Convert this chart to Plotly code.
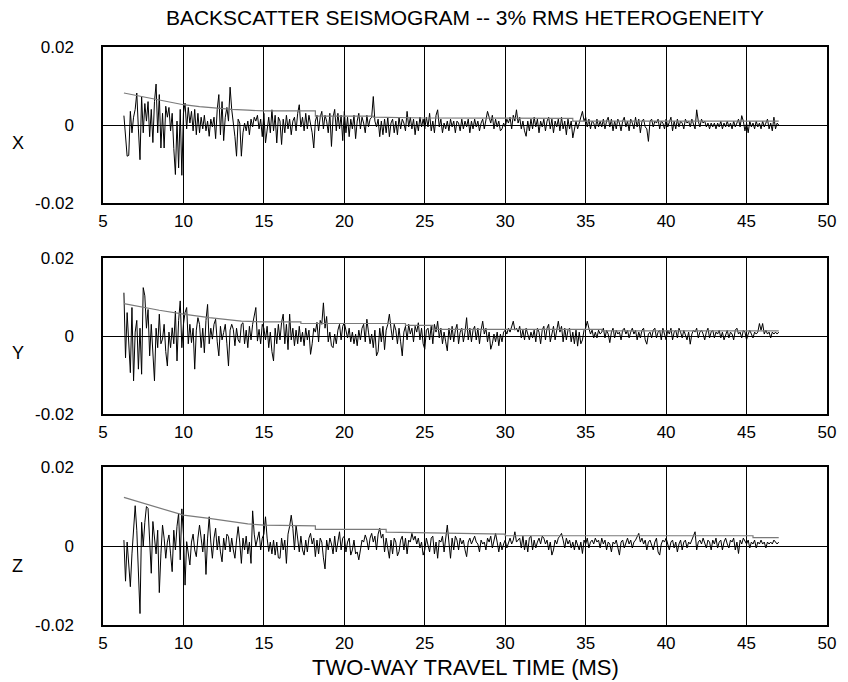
import plotly.graph_objects as go
from plotly.subplots import make_subplots

# sample timing of the traces (ms)
t_start = 6.3
t_step = 0.1

# trace amplitudes in units of 1e-4
x_trace = [
 24,-38,-80,-78,35,-20,20,
 40,82,-10,-89,73,-20,55,10,60,-30,
 40,-45,60,105,-20,78,-59,30,-59,48,
 20,45,-15,30,-60,-127,10,-110,40,-129,
 30,56,-10,45,5,35,-15,40,-25,30,
 -20,20,-10,25,-15,10,-29,15,-5,20,
 -35,40,78,-25,60,-40,20,45,10,97,
 40,10,-30,-80,15,5,-80,-20,5,-15,
 10,-25,15,-5,20,10,25,-10,15,-30,
 30,-46,-10,20,-20,39,-15,25,-46,20,
 10,-50,15,-20,25,-10,15,-25,10,20,
 -15,30,52,-5,20,-15,30,-10,25,5,
 -20,-59,10,25,-15,20,35,-10,25,10,
 -20,30,-55,20,40,-15,30,-10,25,-40,
 35,-20,20,-30,15,-10,25,-35,10,30,
 -10,20,5,-20,25,-5,15,20,73,10,
 -5,15,-30,10,-25,15,-20,20,-30,5,
 15,-20,10,-25,20,-10,15,5,-15,35,
 -5,20,-10,15,-25,10,-15,20,-5,15,
 -10,20,-5,30,-15,10,-20,25,39,-5,
 15,-20,5,-10,10,-15,15,-5,10,-20,
 10,5,-15,15,-10,10,-5,15,-20,10,
 -10,15,-5,10,-15,5,15,-10,10,35,
 20,5,25,-10,15,-5,10,-15,-10,5,
 -5,15,5,20,-10,25,10,39,5,20,
 -10,10,-15,-29,10,-15,15,-10,20,-5,
 15,-20,10,-5,15,-15,10,20,-10,15,
 -20,10,-5,15,-15,20,-10,10,-25,15,
 -10,10,-33,-5,10,-10,5,15,35,10,
 20,-5,15,-10,10,5,-10,15,-5,10,
 -5,15,-10,10,20,-5,15,-15,10,-10,
 15,5,-15,10,20,-5,10,-15,15,5,
 -10,20,-5,15,-20,10,15,-5,-10,-42,
 10,15,-5,10,5,15,-10,10,5,-10,
 15,-5,10,20,-15,10,-10,15,-5,10,
 5,-10,15,5,10,-5,15,5,-10,39,
 10,-5,15,5,10,-5,5,-10,5,-5,
 5,-10,5,-5,10,-10,5,-5,10,-5,
 5,-10,10,-5,5,15,-5,24,10,-15,
 5,-20,10,-5,5,-10,10,-5,5,-10,
 10,-5,5,15,-10,5,-15,20,-10,5,0,
]

y_trace = [
 111,-56,60,-40,-94,73,-115,
 10,40,-85,20,-98,124,103,20,68,-51,
 30,-60,-115,20,-30,56,-20,-8,30,-40,
 -77,10,-30,21,-20,64,-64,40,90,-30,
 30,60,73,-20,30,-17,20,-85,15,47,
 30,-30,20,-43,40,81,-20,20,-8,30,
 43,-15,-51,25,-10,9,30,-20,-77,15,
 30,17,-25,20,-10,-17,30,34,-20,15,
 -30,25,-10,30,50,73,-13,17,-20,30,
 20,-10,25,-30,10,-40,-64,20,-20,30,
 -10,35,56,-20,30,-35,56,-10,20,-25,
 15,-20,25,-15,10,-25,20,-10,15,-47,
 -20,20,10,35,-15,40,30,85,20,50,
 -15,10,-25,-30,5,-20,15,30,-10,25,
 34,10,-5,20,-15,10,-20,5,-25,15,
 -10,20,30,-15,43,10,-20,5,-30,15,
 -51,-40,20,-15,25,-35,15,30,56,20,
 -10,30,15,-20,20,-15,-51,10,25,-10,
 30,5,20,-15,25,10,34,-10,20,-20,
 -34,15,20,-10,25,-20,30,10,38,-5,
 20,-20,10,-15,-38,20,-10,25,-15,15,
 30,-20,10,20,-15,10,47,-10,20,-15,
 15,25,-10,20,-20,15,38,5,20,-15,
 10,-34,-20,5,-15,10,-25,5,-15,10,
 15,5,20,10,25,38,15,20,10,25,
 -5,15,-10,20,5,-10,10,-5,15,-15,
 20,10,-20,15,25,-10,20,30,-15,10,
 25,-10,15,38,10,25,-15,20,-10,15,
 20,-15,10,-20,15,-26,10,-20,-10,15,
 20,38,20,5,15,-5,10,-5,15,5,
 10,20,-5,15,5,-17,10,20,-5,15,
 5,10,-10,15,20,5,15,-5,10,20,
 5,15,-10,10,-5,15,20,-10,-21,5,
 10,-5,15,20,-5,10,15,-10,20,5,
 -10,15,5,20,-10,10,15,-5,20,10,
 -5,15,5,-10,10,-21,5,15,10,20,
 -5,10,15,5,-10,10,20,-5,10,15,
 -5,10,5,15,-5,10,-10,5,15,-5,
 10,5,-10,15,20,5,10,-5,15,10,
 -10,5,15,5,-5,10,5,10,32,15,
 32,5,15,5,10,-5,10,5,10,5,10,
]

z_trace = [
 15,-89,10,-60,-103,-20,30,
 102,40,-60,-171,60,0,60,100,95,20,
 -69,62,10,-20,40,-118,-20,53,20,-31,
 10,28,-20,-65,40,-10,50,83,-35,94,
 30,-99,11,-20,-48,10,30,-10,-27,20,
 53,20,-15,30,-72,20,74,10,-31,20,
 45,-10,25,-15,-40,20,-10,30,24,-15,
 20,-10,-31,15,49,10,-44,20,-10,25,
 -20,10,-44,89,30,0,15,36,-10,20,
 30,74,20,-14,10,-20,15,-23,10,-30,
 -31,20,-10,15,-44,30,50,78,45,-10,
 53,20,-15,25,-10,-23,15,-15,20,32,
 5,20,-27,15,-20,20,10,-30,-58,15,
 -10,20,5,-20,25,-15,10,36,-10,20,
 25,-15,10,20,-23,-10,15,-20,-15,-35,
 -10,15,10,28,15,-10,20,32,10,25,
 -10,30,45,20,30,-15,20,-10,-31,15,
 -20,20,10,-25,-14,15,25,-10,20,-20,
 15,10,32,15,25,5,20,-5,10,-23,
 -10,20,5,-15,20,25,-20,10,-31,15,
 10,25,-15,20,53,10,-31,20,-10,25,
 15,-10,20,5,15,-10,-27,10,20,5,
 15,25,10,5,-15,15,5,10,-10,20,
 10,25,-5,15,32,10,-15,10,-10,5,
 15,-5,10,20,5,15,36,10,15,20,
 -5,25,-10,15,-15,20,25,-10,15,-5,
 10,20,5,25,20,5,15,-10,10,-23,
 -10,15,5,20,25,32,15,-5,20,5,
 15,-5,10,-10,15,5,-10,10,-19,15,
 5,20,-5,10,15,5,20,10,15,-5,
 20,5,15,-10,10,5,-15,10,5,15,
 -5,-23,10,15,-5,10,20,5,15,-5,
 10,15,25,32,10,20,5,15,-10,10,
 15,5,-10,10,20,-15,-23,5,15,10,
 20,5,-10,10,15,-5,10,-15,5,15,
 -10,10,15,-5,10,5,15,25,36,-10,
 10,15,5,20,10,-5,15,10,-10,15,
 5,20,-5,10,15,-10,10,20,5,-5,
 15,10,20,-10,10,-19,15,5,20,10,
 5,15,-5,10,5,15,-5,10,5,15,
 5,10,-5,10,5,10,5,15,10,5,10,
]

# smoothed RMS envelopes (time ms, amplitude 1e-4)
x_env_t = [6.3, 7.0, 8.0, 9.0, 10.0, 11.0, 12.0, 13.0, 14.0, 15.0, 18.2, 18.2, 21.8, 21.8, 25.0, 30.0, 34.2, 34.2, 47.0]
x_env_v = [82, 76, 68, 60, 52, 47, 43, 40, 38, 36, 36, 23, 23, 20, 18, 17, 17, 10, 10]
y_env_t = [6.3, 7.5, 8.5, 10.0, 11.6, 13.6, 15.0, 17.3, 17.3, 23.8, 23.8, 25.5, 25.5, 36.0, 36.0, 47.0]
y_env_v = [83, 73, 66, 56, 47, 38, 36, 36, 32, 32, 27, 27, 17, 17, 13, 13]
z_env_t = [6.3, 7.8, 10.0, 11.6, 13.0, 14.0, 15.0, 18.2, 18.2, 22.6, 22.6, 26.0, 30.0, 30.0, 45.4, 45.4, 47.0]
z_env_v = [123, 104, 78, 70, 62, 56, 53, 51, 42, 42, 35, 32, 30, 26, 26, 21, 21]

components = ["X", "Y", "Z"]
title_text = "BACKSCATTER SEISMOGRAM -- 3% RMS HETEROGENEITY"
xlabel_text = "TWO-WAY TRAVEL TIME (MS)"
x_ticks = [5, 10, 15, 20, 25, 30, 35, 40, 45, 50]
y_ticks = [-0.02, 0, 0.02]
y_tick_text = ["-0.02", "0", "0.02"]

SCALE = 1e-4
FONT = "Liberation Sans, Arial, Helvetica, sans-serif"
FS_TICK = 17
FS_TITLE = 21
FS_XLAB = 22
FS_COMP = 18

traces = [x_trace, y_trace, z_trace]
envs = [(x_env_t, x_env_v), (y_env_t, y_env_v), (z_env_t, z_env_v)]

W, H = 848, 682
ml, mr, mt, mb = 103, 15, 47, 57
ph = H - mt - mb
def ydom(top, bot):
    return [(H - mb - bot) / ph, (H - mb - top) / ph]
domains = [ydom(47, 203), ydom(258, 414), ydom(467, 625)]

fig = make_subplots(rows=3, cols=1)

for i, (tr, (et, ev)) in enumerate(zip(traces, envs)):
    tt = [t_start + t_step * k for k in range(len(tr))]
    fig.add_trace(go.Scatter(x=tt, y=[v * SCALE for v in tr], mode="lines",
                             line=dict(color="black", width=1), showlegend=False,
                             hoverinfo="skip"), row=i + 1, col=1)
    fig.add_trace(go.Scatter(x=et, y=[v * SCALE for v in ev], mode="lines",
                             line=dict(color="#7a7a7a", width=1.2), showlegend=False,
                             hoverinfo="skip"), row=i + 1, col=1)

for i in range(3):
    ax = "" if i == 0 else str(i + 1)
    fig.layout["xaxis" + ax].update(
        range=[5, 50], tickvals=x_ticks, ticktext=[str(v) for v in x_ticks],
        showgrid=True, gridcolor="black", gridwidth=1,
        showline=True, mirror=True, linecolor="black", linewidth=1.5,
        ticks="", zeroline=False, ticklabelstandoff=2,
        tickfont=dict(family=FONT, size=FS_TICK, color="black"), domain=[0, 1])
    fig.layout["yaxis" + ax].update(
        range=[-0.02, 0.02], tickvals=y_ticks, ticktext=y_tick_text,
        showgrid=False, zeroline=True, zerolinecolor="black", zerolinewidth=1,
        showline=True, mirror=True, linecolor="black", linewidth=1.5,
        ticks="", ticklabelstandoff=24,
        tickfont=dict(family=FONT, size=FS_TICK, color="black"), domain=domains[i])

ann = []
ylab_pix = [143, 353, 566]
for name, yp in zip(components, ylab_pix):
    ann.append(dict(text=name, xref="paper", yref="paper",
                    x=(17 - ml) / (W - ml - mr), y=(H - mb - yp) / ph,
                    xanchor="center", yanchor="middle", showarrow=False,
                    font=dict(family=FONT, size=FS_COMP, color="black")))
ann.append(dict(text=xlabel_text, xref="paper", yref="paper", x=0.5, y=0,
                yshift=-42, xanchor="center", yanchor="middle", showarrow=False,
                font=dict(family=FONT, size=FS_XLAB, color="black")))

fig.update_layout(
    width=W, height=H,
    margin=dict(l=ml, r=mr, t=mt, b=mb),
    paper_bgcolor="white", plot_bgcolor="white",
    title=dict(text=title_text, xref="paper", x=0.5, xanchor="center",
               yref="container", y=1 - 18 / H, yanchor="middle",
               font=dict(family=FONT, size=FS_TITLE, color="black")),
    annotations=ann,
)

fig.write_html("out.html")
